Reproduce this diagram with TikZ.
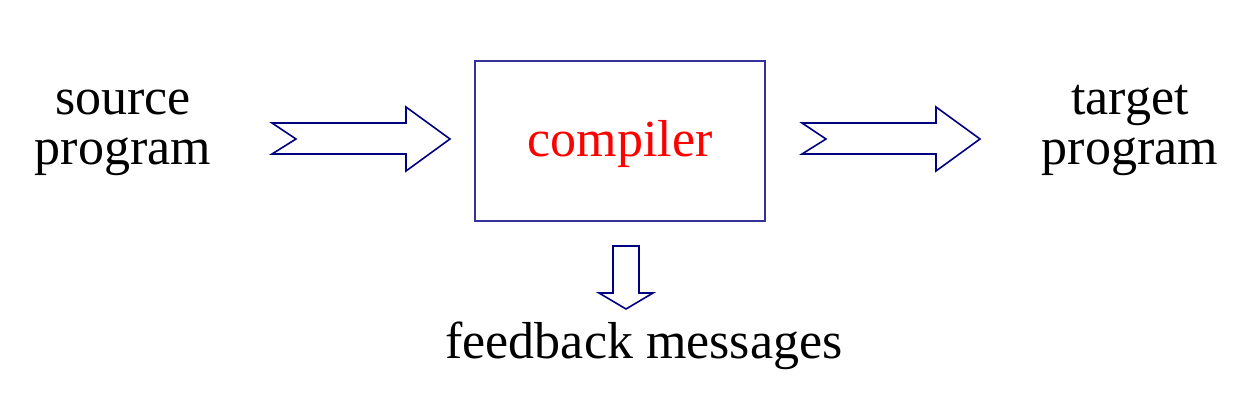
\documentclass[tikz,border=0pt]{standalone}
\usepackage{fontspec}
\setmainfont{Liberation Serif}
\definecolor{navyarrow}{RGB}{0,0,128}
\definecolor{boxblue}{RGB}{51,51,153}
\definecolor{compred}{RGB}{255,0,0}
\begin{document}
\begin{tikzpicture}[x=1pt,y=-1pt,
  fatarrow/.style={draw=navyarrow,line width=1.6pt,fill=white,line join=miter},
  label/.style={font=\fontsize{52}{50}\selectfont,inner sep=0pt,align=center,anchor=base}]
\useasboundingbox (0,0) rectangle (1236,406);
% compiler box
\node[draw=boxblue,line width=2pt,minimum width=290pt,minimum height=160pt,inner sep=0pt] (comp) at (620,141) {};
\node[label,text=compred] (comptext) at (620,157) {compiler};
% left arrow
\draw[fatarrow] (272,123) -- (406,123) -- (406,107) -- (450,139) -- (406,171) -- (406,154) -- (272,154) -- (296,139) -- cycle;
% right arrow
\draw[fatarrow] (802,123) -- (936,123) -- (936,107) -- (980,139) -- (936,171) -- (936,154) -- (802,154) -- (826,139) -- cycle;
% down arrow
\draw[fatarrow] (613,246) -- (639,246) -- (639,293) -- (653,293) -- (626,309) -- (599,293) -- (613,293) -- cycle;
\node[label] (src) at (123,165) {source\\program};
\node[label] (tgt) at (1130,165) {target\\program};
\node[label] (fb) at (644,358) {feedback messages};
\end{tikzpicture}
\end{document}
